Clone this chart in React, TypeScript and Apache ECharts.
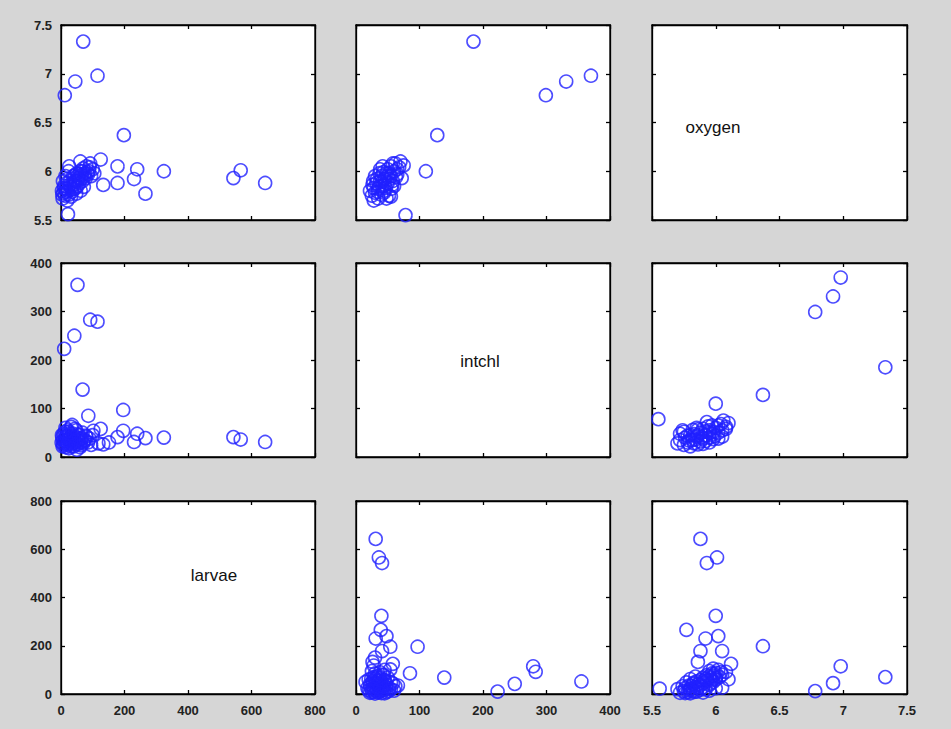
import React, { useEffect, useRef } from "react";
import * as echarts from "echarts";

// Pair A: larvae vs oxygen
const pairA_larvae = [70,115,45,12,198,22,324,543,566,643,178,178,240,230,266,125,133,92,61,26,
  3,5,6,8,10,12,14,15,18,20,22,24,25,28,30,32,35,38,40,42,45,48,50,52,55,58,60,62,65,68,70,72,75,78,80,85,88,95,100,105,
  4,9,16,19,27,33,37,44,47,53,57,63,67,74,82,90];
const pairA_oxygen = [7.33,6.98,6.92,6.78,6.37,5.56,6.0,5.93,6.01,5.88,6.05,5.88,6.02,5.92,5.77,6.12,5.86,6.08,6.1,6.05,
  5.8,5.72,5.9,5.78,5.85,5.75,5.95,5.82,5.88,5.7,5.8,6.0,5.76,5.9,5.84,5.74,5.79,5.95,5.86,5.82,5.9,5.77,5.98,5.85,5.93,5.88,6.0,5.8,5.96,5.9,6.03,5.84,5.98,5.93,6.05,5.97,6.0,5.95,6.02,5.98,
  5.76,5.83,5.79,5.92,5.86,5.81,5.88,5.96,5.83,5.9,5.97,5.92,6.0,5.95,5.99,6.04];

// Pair B: intchl vs oxygen
const pairB_intchl = [185,299,331,370,128,110,78,
  22,25,28,30,32,35,35,38,40,40,42,45,45,48,50,50,52,55,55,58,60,62,65,68,70,72,75,42,38,30,48,55,45,36,33,60,28,65,52,58,
  26,34,41,47,53,57,63,37,44,50,27,43,56];
const pairB_oxygen = [7.33,6.78,6.92,6.98,6.37,6.0,5.55,
  5.8,5.75,5.83,5.78,5.88,5.72,5.82,5.9,5.76,5.95,5.85,5.8,5.92,5.98,5.88,6.02,5.75,5.95,6.05,5.9,6.0,6.08,5.97,6.04,6.1,5.93,6.06,6.05,6.02,5.95,5.72,5.74,5.86,5.84,5.92,5.85,5.7,6.02,5.98,6.08,
  5.86,5.79,5.89,5.83,5.92,5.86,5.94,5.98,5.78,5.95,5.9,5.99,5.82];

// Pair C: larvae vs intchl
const pairC_larvae = [52,92,115,42,10,68,86,196,643,566,543,324,230,240,266,178,196,125,133,151,100,118,102,
  2,4,5,6,8,10,12,14,15,16,18,20,22,24,25,28,30,32,34,36,38,40,42,45,48,50,52,55,58,60,62,65,68,70,75,80,85,90,95,35,20,50,
  3,7,11,17,21,26,31,37,43,47,53,57,63,72,78,27,13,44];
const pairC_intchl = [355,283,279,250,223,139,85,97,31,36,41,40,31,48,39,41,54,58,26,30,45,28,54,
  30,40,22,35,48,28,38,60,20,32,44,25,36,52,18,30,42,62,26,35,48,22,38,30,55,40,26,34,45,20,30,38,50,28,35,42,30,38,25,66,55,15,
  45,25,33,42,28,38,22,44,32,27,46,38,24,32,44,48,52,58];

const oxygenTicks = { min: 5.5, max: 7.5, interval: 0.5 };
const intchlTicks = { min: 0, max: 400, interval: 100 };
const larvaeTicks = { min: 0, max: 800, interval: 200 };

const colRanges = [larvaeTicks, intchlTicks, oxygenTicks];
const rowRanges = [oxygenTicks, intchlTicks, larvaeTicks];
const diagLabels = ["oxygen", "intchl", "larvae"];

const colLeft = [61, 356, 652];
const colW = [254, 254, 255];
const rowTop = [25, 263, 501];
const rowH = [195, 194, 193];

const zip = (a: number[], b: number[]) => a.map((v, i) => [v, b[i]]);

export default function App() {
  const ref = useRef<HTMLDivElement>(null);
  useEffect(() => {
    if (!ref.current) return;
    const chart = echarts.init(ref.current, null, { renderer: "svg" });
    const grid: any[] = [];
    const xAxis: any[] = [];
    const yAxis: any[] = [];
    const lineStyle = { color: "#000", width: 1.3 };
    const labelStyle = {
      color: "#222", fontSize: 13, fontWeight: "bold",
      fontFamily: "Liberation Sans, Arial, sans-serif",
    };
    for (let r = 0; r < 3; r++) {
      for (let c = 0; c < 3; c++) {
        const g = r * 3 + c;
        grid.push({
          left: colLeft[c], top: rowTop[r], width: colW[c], height: rowH[r],
          show: true, backgroundColor: "#fff", borderColor: "#000", borderWidth: 1.3,
        });
        for (const pos of ["bottom", "top"]) {
          xAxis.push({
            type: "value", gridIndex: g, position: pos, ...colRanges[c],
            axisLine: { show: true, onZero: false, lineStyle },
            axisTick: { show: true, inside: true, length: 4, lineStyle },
            axisLabel: { show: pos === "bottom" && r === 2, margin: 10, ...labelStyle },
            splitLine: { show: false },
          });
        }
        for (const pos of ["left", "right"]) {
          yAxis.push({
            type: "value", gridIndex: g, position: pos, ...rowRanges[r],
            axisLine: { show: true, onZero: false, lineStyle },
            axisTick: { show: true, inside: true, length: 4, lineStyle },
            axisLabel: { show: pos === "left" && c === 0, margin: 9, ...labelStyle },
            splitLine: { show: false },
          });
        }
      }
    }
    const panels: { g: number; data: number[][] }[] = [
      { g: 0, data: zip(pairA_larvae, pairA_oxygen) },
      { g: 1, data: zip(pairB_intchl, pairB_oxygen) },
      { g: 3, data: zip(pairC_larvae, pairC_intchl) },
      { g: 5, data: zip(pairB_oxygen, pairB_intchl) },
      { g: 7, data: zip(pairC_intchl, pairC_larvae) },
      { g: 8, data: zip(pairA_oxygen, pairA_larvae) },
    ];
    const series = panels.map((p) => ({
      type: "scatter",
      xAxisIndex: p.g * 2,
      yAxisIndex: p.g * 2,
      symbol: "circle",
      symbolSize: 13,
      itemStyle: { color: "rgba(0,0,0,0)", borderColor: "#2020ff", borderWidth: 1.6 },
      emphasis: { disabled: true },
      data: p.data,
    }));
    const labelPos = [[713, 127], [480, 361], [214, 575]];
    const graphic = diagLabels.map((t, i) => ({
      type: "text",
      x: labelPos[i][0],
      y: labelPos[i][1],
      style: {
        text: t, fill: "#111", fontSize: 17,
        fontFamily: "Liberation Sans, Arial, sans-serif",
        align: "center", verticalAlign: "middle",
      },
      z: 100,
    }));
    chart.setOption({
      animation: false,
      backgroundColor: "#d6d6d6",
      grid, xAxis, yAxis, series, graphic,
    });
    return () => chart.dispose();
  }, []);
  return (
    <div
      ref={ref}
      style={{ position: "fixed", left: 0, top: 0, width: 951, height: 729, background: "#d6d6d6" }}
    />
  );
}
